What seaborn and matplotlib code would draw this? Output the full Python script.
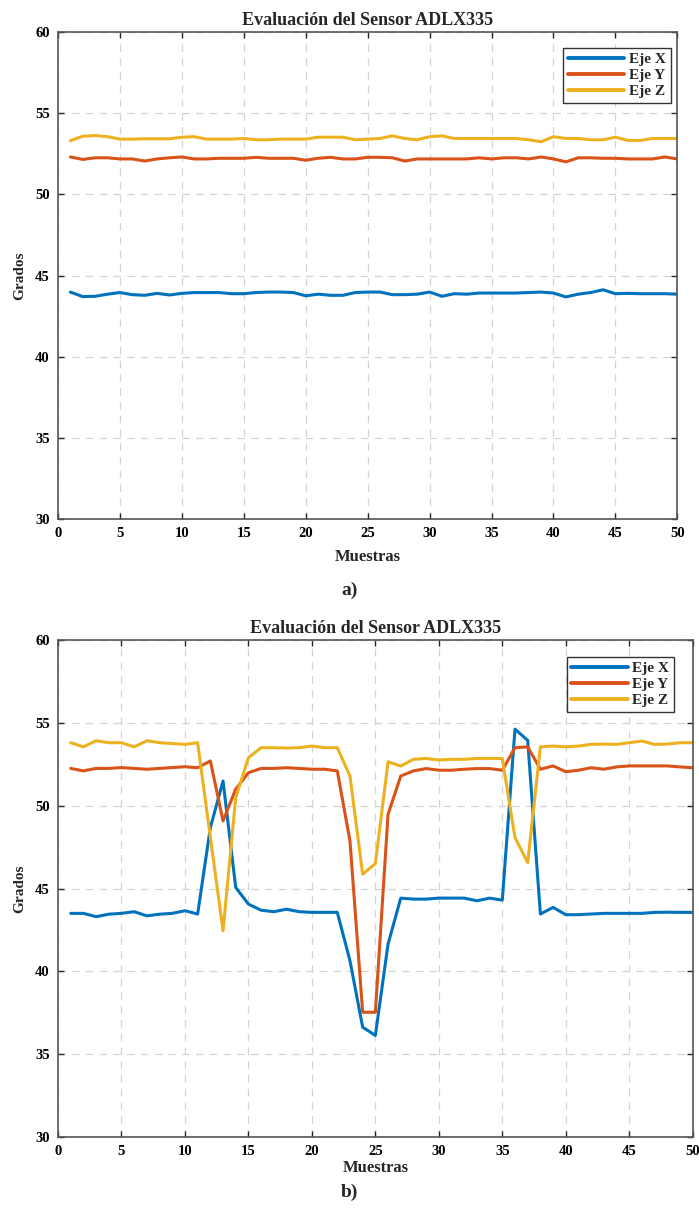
import numpy as np
import pandas as pd
import seaborn as sns
import matplotlib
matplotlib.use("Agg")
import matplotlib.pyplot as plt

# muestras 1..50
muestras = list(range(1, 51))

# a) sensor en reposo
a_eje_x = [43.98, 43.70, 43.72, 43.85, 43.95, 43.82, 43.78, 43.90, 43.80, 43.90,
           43.95, 43.95, 43.95, 43.88, 43.88, 43.95, 43.98, 43.98, 43.95, 43.75,
           43.85, 43.78, 43.78, 43.95, 43.98, 43.98, 43.82, 43.82, 43.85, 43.98,
           43.72, 43.88, 43.85, 43.92, 43.92, 43.92, 43.92, 43.95, 43.98, 43.92,
           43.68, 43.85, 43.95, 44.12, 43.88, 43.90, 43.88, 43.88, 43.88, 43.85]
a_eje_y = [52.30, 52.15, 52.25, 52.25, 52.18, 52.18, 52.05, 52.18, 52.25, 52.30,
           52.18, 52.18, 52.22, 52.22, 52.22, 52.28, 52.22, 52.22, 52.22, 52.10,
           52.22, 52.28, 52.18, 52.18, 52.28, 52.28, 52.25, 52.05, 52.18, 52.18,
           52.18, 52.18, 52.18, 52.25, 52.18, 52.25, 52.25, 52.18, 52.30, 52.18,
           52.00, 52.25, 52.25, 52.22, 52.22, 52.18, 52.18, 52.18, 52.30, 52.18]
a_eje_z = [53.30, 53.58, 53.62, 53.55, 53.40, 53.40, 53.42, 53.42, 53.42, 53.52,
           53.55, 53.40, 53.40, 53.40, 53.44, 53.36, 53.36, 53.40, 53.40, 53.40,
           53.52, 53.52, 53.52, 53.36, 53.40, 53.44, 53.60, 53.44, 53.36, 53.55,
           53.60, 53.44, 53.44, 53.44, 53.44, 53.44, 53.44, 53.36, 53.24, 53.55,
           53.44, 53.44, 53.36, 53.36, 53.52, 53.32, 53.32, 53.44, 53.44, 53.44]

# b) sensor en movimiento
b_eje_x = [43.50, 43.50, 43.30, 43.45, 43.50, 43.60, 43.35, 43.45, 43.50, 43.66,
           43.46, 48.67, 51.49, 45.06, 44.06, 43.69, 43.60, 43.75, 43.60, 43.56,
           43.56, 43.56, 40.64, 36.63, 36.13, 41.65, 44.42, 44.36, 44.36, 44.42,
           44.42, 44.42, 44.26, 44.42, 44.30, 54.62, 53.94, 43.46, 43.86, 43.42,
           43.42, 43.46, 43.50, 43.50, 43.50, 43.50, 43.56, 43.57, 43.56, 43.56]
b_eje_y = [52.25, 52.10, 52.25, 52.25, 52.30, 52.25, 52.20, 52.25, 52.30, 52.35,
           52.29, 52.70, 49.08, 51.00, 51.99, 52.25, 52.25, 52.29, 52.25, 52.20,
           52.20, 52.10, 47.87, 37.53, 37.53, 49.48, 51.79, 52.10, 52.24, 52.14,
           52.14, 52.20, 52.24, 52.24, 52.14, 53.50, 53.55, 52.20, 52.40, 52.05,
           52.14, 52.29, 52.20, 52.34, 52.40, 52.40, 52.40, 52.40, 52.34, 52.29]
b_eje_z = [53.80, 53.55, 53.92, 53.80, 53.80, 53.55, 53.92, 53.80, 53.75, 53.70,
           53.80, 48.10, 42.45, 50.48, 52.90, 53.50, 53.50, 53.48, 53.50, 53.60,
           53.50, 53.50, 51.79, 45.87, 46.50, 52.65, 52.39, 52.80, 52.85, 52.76,
           52.80, 52.80, 52.85, 52.85, 52.85, 48.07, 46.57, 53.55, 53.60, 53.55,
           53.60, 53.70, 53.72, 53.70, 53.80, 53.90, 53.70, 53.72, 53.80, 53.80]

ejes = ["Eje X", "Eje Y", "Eje Z"]
colores = ["#0072BD", "#D95319", "#EDB120"]

sns.set_style("ticks")
plt.rcParams["font.family"] = ["Liberation Serif", "DejaVu Serif"]
plt.rcParams["font.weight"] = "bold"

fig = plt.figure(figsize=(6.99, 12.11), dpi=100)
ax_a = fig.add_axes([0.083, 0.5714, 0.886, 0.4022])
ax_b = fig.add_axes([0.083, 0.0611, 0.908, 0.4104])

paneles = [(ax_a, (a_eje_x, a_eje_y, a_eje_z), 6, (0.989, 0.967)),
           (ax_b, (b_eje_x, b_eje_y, b_eje_z), 1, (0.970, 0.966))]

for ax, datos, lpad, ancla in paneles:
    df = pd.DataFrame({
        "Muestras": muestras * 3,
        "Grados": datos[0] + datos[1] + datos[2],
        "Eje": [e for e in ejes for _ in muestras],
    })
    sns.lineplot(data=df, x="Muestras", y="Grados", hue="Eje",
                 palette=colores, linewidth=2.2, ax=ax)
    ax.set_xlim(0, 50)
    ax.set_ylim(30, 60)
    ax.set_xticks(range(0, 51, 5))
    ax.set_yticks(range(30, 61, 5))
    ax.grid(True, linestyle=(0, (6, 5)), color="#d4d4d4", linewidth=0.9)
    ax.tick_params(direction="in", top=True, right=True, length=4,
                   width=1, labelsize=10.5, colors="#262626", pad=6)
    for lab in ax.get_xticklabels() + ax.get_yticklabels():
        lab.set_fontweight("bold")
        lab.set_color("black")
    for s in ax.spines.values():
        s.set_color("#555555")
        s.set_linewidth(1.2)
    ax.set_title("Evaluación del Sensor ADLX335", fontsize=13,
                 fontweight="bold", pad=5)
    ax.set_xlabel("Muestras", fontsize=12, fontweight="bold", labelpad=lpad)
    ax.set_ylabel("Grados", fontsize=11, fontweight="bold", labelpad=6)
    leg = ax.legend(loc="upper right", bbox_to_anchor=ancla,
                    fontsize=11, handlelength=3.7, handletextpad=0.3,
                    labelspacing=0.15, borderpad=0.3, borderaxespad=0,
                    frameon=True, fancybox=False, edgecolor="#333333",
                    framealpha=1)
    leg.get_frame().set_linewidth(1.0)
    for t in leg.get_texts():
        t.set_fontweight("bold")
    for h in leg.get_lines():
        h.set_linewidth(2.8)

fig.text(0.5, 1 - 590 / 1211, "a)", ha="center", va="center",
         fontsize=14, fontweight="bold")
fig.text(0.5, 1 - 1192 / 1211, "b)", ha="center", va="center",
         fontsize=14, fontweight="bold")

fig.savefig("out.png", dpi=100)
